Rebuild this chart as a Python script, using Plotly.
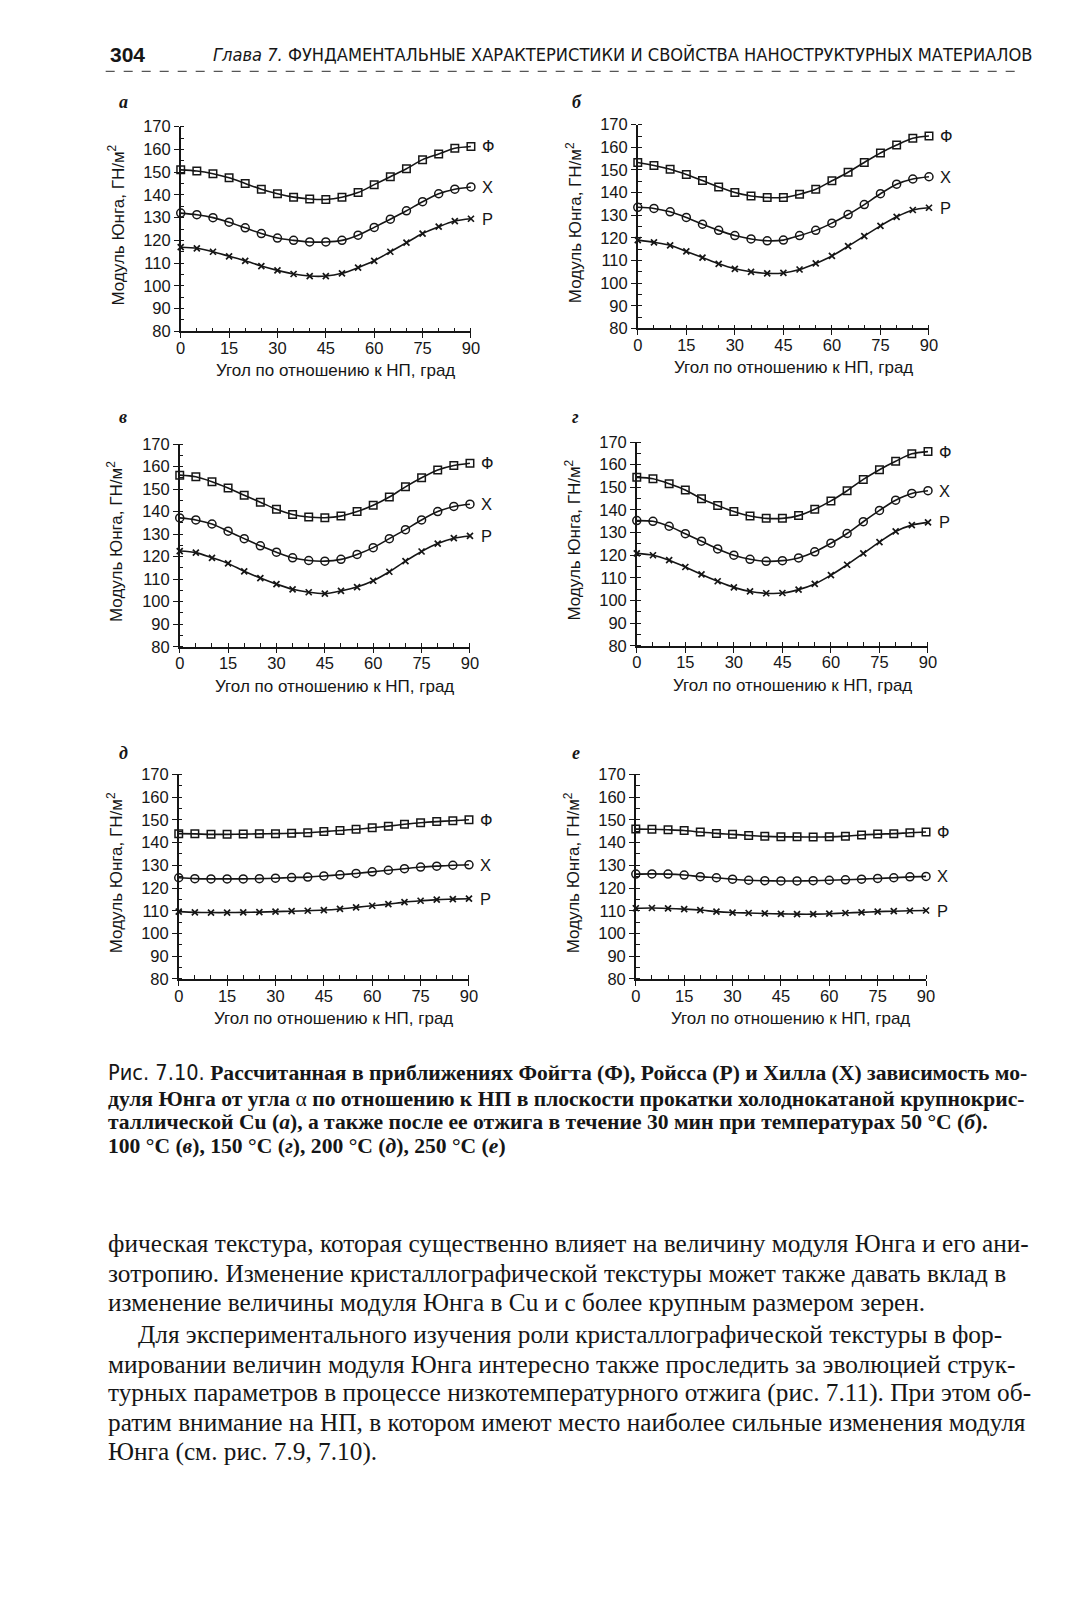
import plotly.graph_objects as go

W, H = 1091, 1600

angles = [0, 5, 10, 15, 20, 25, 30, 35, 40, 45, 50, 55, 60, 65, 70, 75, 80, 85, 90]

# panel а
a_F = [151.0, 150.5, 149.3, 147.5, 145.0, 142.5, 140.5, 139.0, 138.2, 138.0, 139.0, 141.0, 144.5, 148.0, 151.5, 155.5, 158.0, 160.5, 161.3]
a_X = [132.0, 131.3, 130.0, 128.0, 125.5, 123.0, 121.0, 120.0, 119.3, 119.3, 120.0, 122.3, 125.7, 129.3, 133.0, 137.0, 140.5, 142.5, 143.5]
a_P = [117.0, 116.5, 115.0, 113.0, 111.0, 108.7, 106.8, 105.2, 104.3, 104.3, 105.5, 108.0, 111.0, 115.0, 119.0, 123.0, 126.0, 128.5, 129.5]
# panel б
b_F = [153.3, 152.0, 150.3, 148.0, 145.3, 142.5, 140.0, 138.5, 137.8, 137.8, 139.3, 141.5, 145.2, 149.0, 153.3, 157.5, 161.0, 164.0, 165.0]
b_X = [133.5, 133.0, 131.5, 129.0, 126.0, 123.3, 121.0, 119.5, 118.7, 119.0, 121.0, 123.3, 126.5, 130.3, 134.7, 139.5, 143.7, 146.0, 147.0]
b_P = [119.0, 118.0, 116.7, 114.0, 111.3, 108.5, 106.3, 105.0, 104.3, 104.5, 106.0, 108.7, 112.0, 116.3, 120.8, 125.3, 129.3, 132.3, 133.3]
# panel в
v_F = [156.2, 155.5, 153.3, 150.5, 147.3, 144.2, 141.0, 138.7, 137.6, 137.3, 138.0, 140.0, 142.8, 146.5, 151.0, 155.0, 158.5, 160.5, 161.5]
v_X = [137.2, 136.3, 134.5, 131.3, 128.0, 124.8, 122.0, 119.5, 118.3, 118.0, 118.8, 121.0, 124.0, 128.0, 132.0, 136.3, 140.0, 142.3, 143.3]
v_P = [122.5, 121.8, 119.5, 117.0, 113.5, 110.5, 107.8, 105.5, 104.2, 103.6, 104.8, 106.5, 109.3, 113.3, 118.0, 122.3, 125.8, 128.2, 129.2]
# panel г
g_F = [154.4, 153.8, 151.6, 148.8, 145.0, 142.0, 139.3, 137.3, 136.3, 136.3, 137.5, 140.3, 144.0, 148.5, 153.5, 157.8, 161.5, 164.8, 165.8]
g_X = [135.3, 135.0, 132.8, 129.5, 126.2, 122.8, 120.0, 118.2, 117.3, 117.6, 118.8, 121.5, 125.3, 129.6, 134.8, 139.8, 144.3, 147.3, 148.5]
g_P = [120.8, 120.0, 117.8, 114.8, 111.5, 108.5, 105.8, 104.0, 103.2, 103.3, 104.8, 107.3, 111.2, 115.8, 120.8, 125.8, 130.5, 133.3, 134.5]
# panel д
d_F = [143.9, 143.8, 143.6, 143.6, 143.7, 143.8, 143.9, 144.1, 144.3, 144.8, 145.3, 145.8, 146.5, 147.2, 148.0, 148.7, 149.2, 149.6, 150.0]
d_X = [124.5, 124.1, 124.0, 124.0, 124.0, 124.1, 124.3, 124.6, 124.8, 125.3, 125.8, 126.4, 127.1, 127.8, 128.5, 129.2, 129.6, 130.0, 130.2]
d_P = [109.6, 109.3, 109.2, 109.2, 109.3, 109.4, 109.6, 109.8, 110.0, 110.3, 110.8, 111.5, 112.2, 112.9, 113.8, 114.4, 114.9, 115.1, 115.3]
# panel е
e_F = [145.9, 145.8, 145.6, 145.3, 144.6, 144.0, 143.6, 143.1, 142.7, 142.5, 142.5, 142.4, 142.5, 142.8, 143.3, 143.7, 143.9, 144.3, 144.6]
e_X = [126.1, 126.2, 126.1, 125.7, 125.0, 124.5, 123.9, 123.4, 123.2, 123.1, 123.1, 123.2, 123.4, 123.6, 123.9, 124.2, 124.5, 124.9, 125.1]
e_P = [111.1, 111.2, 111.0, 110.7, 110.3, 109.6, 109.2, 109.0, 108.8, 108.6, 108.5, 108.5, 108.7, 109.0, 109.3, 109.6, 109.8, 110.0, 110.1]

panel_letters = ["а", "б", "в", "г", "д", "е"]
series_names = ["Ф", "Х", "Р"]
panels_data = [
    (a_F, a_X, a_P), (b_F, b_X, b_P), (v_F, v_X, v_P),
    (g_F, g_X, g_P), (d_F, d_X, d_P), (e_F, e_X, e_P),
]
x_ticks = [0, 15, 30, 45, 60, 75, 90]
y_ticks = [80, 90, 100, 110, 120, 130, 140, 150, 160, 170]

x_title = "Угол по отношению к НП, град"
y_title = "Модуль Юнга, ГН/м<sup>2</sup>"

# panel boxes in page pixels: (left, right, top, bottom)
boxes = [
    (178, 472, 119, 326), (641, 936, 117, 323),
    (177, 471, 440, 645), (640, 935, 438, 644),
    (176, 470, 774, 981), (639, 933, 774, 981),
]
letter_pos = [(113, 94), (572, 94), (113, 413), (572, 413), (113, 752), (572, 752)]

def px(x):
    return x / W

def py(y):
    return 1 - y / H

SANS = "Liberation Sans, Arial, sans-serif"
SERIF = "Liberation Serif, Times New Roman, serif"
NARROW = "Liberation Sans Narrow, DejaVu Sans Condensed, sans-serif"
INK = "#161616"

fig = go.Figure()
annotations = []
layout = {}

markers = [
    dict(symbol="square-open", size=7.5, color=INK, line=dict(width=1.5, color=INK)),
    dict(symbol="circle-open", size=8, color=INK, line=dict(width=1.5, color=INK)),
    dict(symbol="x-thin", size=6, color=INK, line=dict(width=1.7, color=INK)),
]

for i, (box, data) in enumerate(zip(boxes, panels_data)):
    n = "" if i == 0 else str(i + 1)
    xa, ya = "x" + n, "y" + n
    l, r, t, b = box
    for k, ser in enumerate(data):
        fig.add_trace(go.Scatter(
            x=angles, y=ser, xaxis=xa, yaxis=ya, mode="lines+markers",
            line=dict(color=INK, width=1.6, shape="spline", smoothing=0.8),
            marker=markers[k], cliponaxis=False, showlegend=False,
            name=series_names[k],
        ))
        annotations.append(dict(
            x=angles[-1], y=ser[-1], xref=xa, yref=ya, text=series_names[k],
            showarrow=False, xanchor="left", yanchor="middle", xshift=9,
            font=dict(family=SANS, size=16.5, color=INK),
        ))
    layout["xaxis" + n] = dict(
        domain=[px(l), px(r)], anchor=ya, range=[0, 90],
        tickmode="array", tickvals=x_ticks, ticks="outside", ticklen=5,
        tickwidth=1.4, tickcolor=INK, showline=True, linecolor=INK, linewidth=1.5,
        showgrid=False, zeroline=False, fixedrange=True,
        tickfont=dict(family=SANS, size=16.5, color=INK), ticklabelstandoff=-4,
        minor=dict(dtick=5, tick0=0, ticks="inside", ticklen=4, tickwidth=1.2,
                   tickcolor=INK, showgrid=False),
    )
    layout["yaxis" + n] = dict(
        domain=[py(b), py(t)], anchor=xa, range=[80, 170],
        tickmode="array", tickvals=y_ticks, ticks="outside", ticklen=5,
        tickwidth=1.4, tickcolor=INK, showline=True, linecolor=INK, linewidth=1.5,
        showgrid=False, zeroline=False, fixedrange=True,
        tickfont=dict(family=SANS, size=16.5, color=INK), ticklabelstandoff=0,
        minor=dict(dtick=5, tick0=80, ticks="inside", ticklen=4, tickwidth=1.2,
                   tickcolor=INK, showgrid=False),
    )
    # axis titles
    annotations.append(dict(
        x=px((l + r) / 2 + 10), y=py(b + 40), xref="paper", yref="paper",
        text=x_title, showarrow=False, xanchor="center", yanchor="middle",
        font=dict(family=SANS, size=17, color=INK),
    ))
    annotations.append(dict(
        x=px(l - 65), y=py((t + b) / 2 - 4), xref="paper", yref="paper",
        text=y_title, showarrow=False, xanchor="center", yanchor="middle",
        textangle=-90, font=dict(family=SANS, size=17, color=INK),
    ))
    # panel letter
    lx, ly = letter_pos[i]
    annotations.append(dict(
        x=px(lx), y=py(ly), xref="paper", yref="paper",
        text="<b><i>" + panel_letters[i] + "</i></b>", showarrow=False,
        xanchor="left", yanchor="middle",
        font=dict(family=SERIF, size=18, color=INK),
    ))

# header
annotations.append(dict(x=px(104), y=py(46), xref="paper", yref="paper",
                        text="<b>304</b>", showarrow=False, xanchor="left", yanchor="middle",
                        font=dict(family=SANS, size=21, color=INK)))
annotations.append(dict(x=px(209), y=py(46), xref="paper", yref="paper",
                        text="<i>Глава 7.</i> ФУНДАМЕНТАЛЬНЫЕ ХАРАКТЕРИСТИКИ И СВОЙСТВА НАНОСТРУКТУРНЫХ МАТЕРИАЛОВ",
                        showarrow=False, xanchor="left", yanchor="middle",
                        font=dict(family=NARROW, size=18.1, color=INK)))

# caption
caption_lines = [
    "<span style='font-family:Liberation Sans Narrow, DejaVu Sans Condensed; font-weight:normal'>Рис. 7.10.</span> <b>Рассчитанная в приближениях Фойгта (Ф), Ройсса (Р) и Хилла (Х) зависимость мо-</b>",
    "<b>дуля Юнга от угла</b> α <b>по отношению к НП в плоскости прокатки холоднокатаной крупнокрис-</b>",
    "<b>таллической Cu (<i>а</i>), а также после ее отжига в течение 30 мин при температурах 50 °C (<i>б</i>).</b>",
    "<b>100 °C (<i>в</i>), 150 °C (<i>г</i>), 200 °C (<i>д</i>), 250 °C (<i>е</i>)</b>",
]
cap_y = [1076, 1102, 1126, 1150]
for txt, yy in zip(caption_lines, cap_y):
    annotations.append(dict(x=px(102), y=py(yy), xref="paper", yref="paper", text=txt,
                            showarrow=False, xanchor="left", yanchor="middle",
                            font=dict(family=SERIF, size=21.6, color=INK)))

body_lines = [
    (102, "фическая текстура, которая существенно влияет на величину модуля Юнга и его ани-"),
    (102, "зотропию. Изменение кристаллографической текстуры может также давать вклад в"),
    (102, "изменение величины модуля Юнга в Cu и с более крупным размером зерен."),
    (133, "Для экспериментального изучения роли кристаллографической текстуры в фор-"),
    (102, "мировании величин модуля Юнга интересно также проследить за эволюцией струк-"),
    (102, "турных параметров в процессе низкотемпературного отжига (рис. 7.11). При этом об-"),
    (102, "ратим внимание на НП, в котором имеют место наиболее сильные изменения модуля"),
    (102, "Юнга (см. рис. 7.9, 7.10)."),
]
body_y = [1248, 1278, 1308, 1340, 1370, 1399, 1429, 1459]
for (xx, txt), yy in zip(body_lines, body_y):
    annotations.append(dict(x=px(xx), y=py(yy), xref="paper", yref="paper", text=txt,
                            showarrow=False, xanchor="left", yanchor="middle",
                            font=dict(family=SERIF, size=25.3, color=INK)))

layout.update(
    width=W, height=H, margin=dict(l=0, r=0, t=0, b=0),
    paper_bgcolor="white", plot_bgcolor="white", showlegend=False,
    annotations=annotations,
    shapes=[dict(type="line", xref="paper", yref="paper", x0=px(102), x1=px(1030),
                 y0=py(63), y1=py(63), line=dict(color="#555", width=1.2, dash="dash"))],
)
fig.update_layout(**layout)
fig.write_html(
    "out.html",
    config={"displayModeBar": False},
    post_script="document.body.style.margin='0';document.body.style.overflow='hidden';",
)
